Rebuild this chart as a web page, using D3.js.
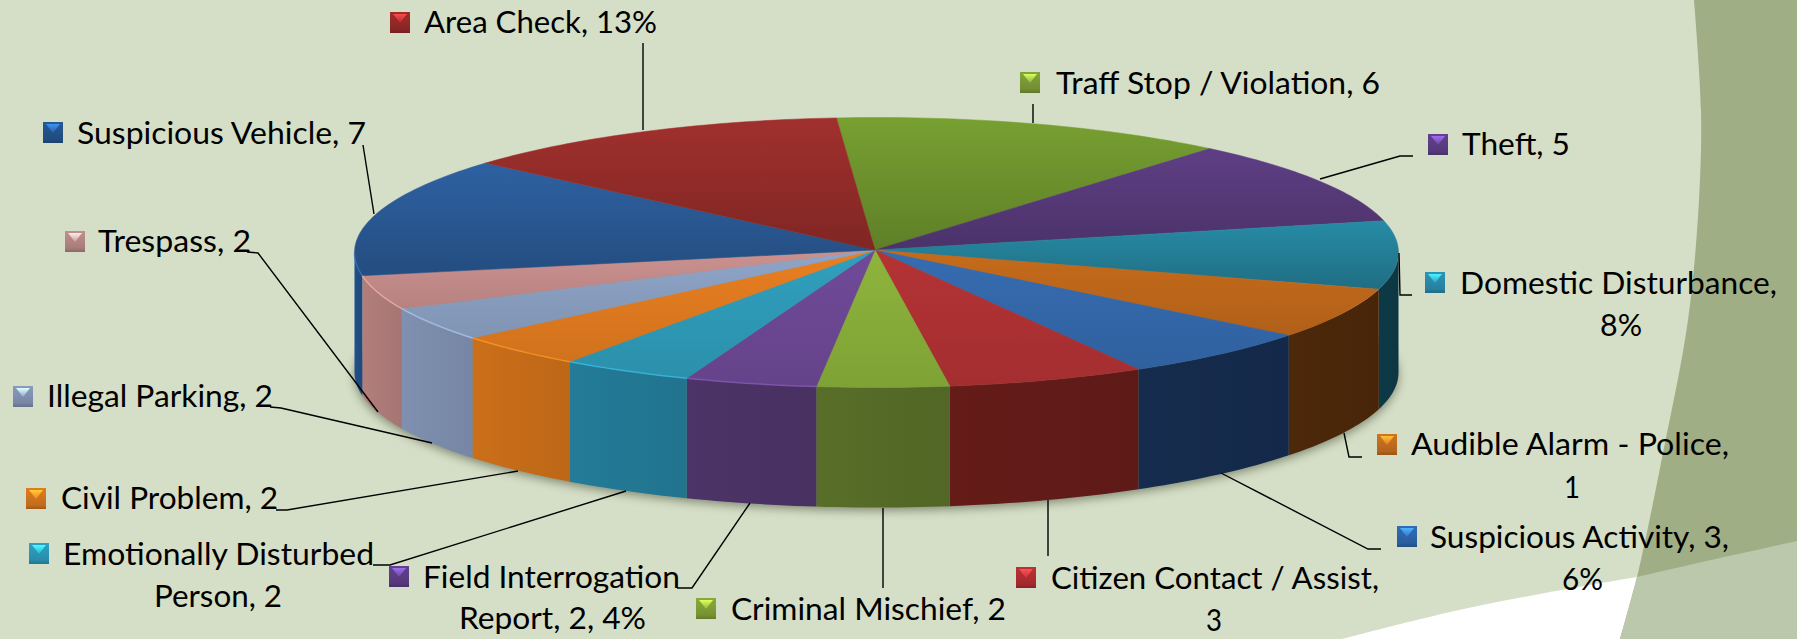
<!DOCTYPE html>
<html>
<head>
<meta charset="utf-8">
<script src="https://cdnjs.cloudflare.com/ajax/libs/d3/7.8.5/d3.min.js"></script>
<style>
html, body { margin: 0; padding: 0; background: #d5dec6; overflow: hidden; }
svg { display: block; }
text { font-family: Lato, "Open Sans", sans-serif; font-size: 30px; fill: #000; }
</style>
</head>
<body>
<svg id="chart" width="1797" height="639"></svg>
<script>
// slices clockwise, starting with Traff Stop
const categories = ["Traff Stop / Violation", "Theft", "Domestic Disturbance", "Audible Alarm - Police",
    "Suspicious Activity", "Citizen Contact / Assist", "Criminal Mischief", "Field Interrogation Report",
    "Emotionally Disturbed Person", "Civil Problem", "Illegal Parking", "Trespass", "Suspicious Vehicle", "Area Check"];

// Audible Alarm is drawn as wide as a 3 even though its label says 1
const sliceValues = [6, 5, 4, 3, 3, 3, 2, 2, 2, 2, 2, 2, 7, 6];

const labelLines = [
    ["Traff Stop / Violation, 6"], ["Theft, 5"], ["Domestic Disturbance,", "8%"], ["Audible Alarm - Police,", "1"],
    ["Suspicious Activity, 3,", "6%"], ["Citizen Contact / Assist,", "3"], ["Criminal Mischief, 2"],
    ["Field Interrogation", "Report, 2, 4%"], ["Emotionally Disturbed", "Person, 2"], ["Civil Problem, 2"],
    ["Illegal Parking, 2"], ["Trespass, 2"], ["Suspicious Vehicle, 7"], ["Area Check, 13%"]
];

const topColors = ["#739a2f", "#5b3d80", "#26869f", "#c2691b", "#356aae", "#b23234", "#8bb13b",
    "#6e4996", "#2f9dbb", "#e57d20", "#8ca2c4", "#c78e8c", "#2c5e9c", "#9b2e2b"];
const wallColors = ["#55701f", "#3d2a58", "#0d3a47", "#4d280a", "#162c4e", "#651c19", "#586e28",
    "#4d3468", "#237c98", "#cb6f19", "#7f90b0", "#b27e7c", "#1f5088", "#6b1d1b"];
const markerColors = ["#7f9f38", "#5f3f8a", "#2b8fb0", "#c8701f", "#2f68b0", "#b52f33", "#84a437",
    "#5f3f8a", "#2b9dbd", "#d9781f", "#8496b8", "#bb8a8a", "#24568f", "#9a2a2a"];

// label placement, x0..x1 is the width of each text line, y its baseline
const labelLayout = [
    { mark: [1020, 72], lines: [[1056, 1380, 94]], leader: [[1033, 104], [1033, 123]] },
    { mark: [1428, 134], lines: [[1462, 1570, 155]], leader: [[1413, 156], [1400, 156], [1320, 179]] },
    { mark: [1425, 272], lines: [[1460, 1777, 294], [1600, 1642, 336]], leader: [[1412, 295], [1400, 295], [1399, 253]] },
    { mark: [1377, 434], lines: [[1411, 1729, 455], [1564, 1580, 498]], leader: [[1362, 457], [1349, 457], [1344, 433]] },
    { mark: [1397, 526], lines: [[1430, 1729, 548], [1562, 1603, 590]], leader: [[1381, 549], [1368, 549], [1221, 473]] },
    { mark: [1016, 567], lines: [[1051, 1379, 589], [1206, 1222, 631]], leader: [[1048, 556], [1048, 500]] },
    { mark: [696, 598], lines: [[731, 1006, 620]], leader: [[883, 588], [883, 508]] },
    { mark: [389, 566], lines: [[423, 680, 588], [459, 646, 629]], leader: [[677, 588], [692, 588], [750, 503]] },
    { mark: [29, 543], lines: [[63, 374, 565], [154, 282, 607]], leader: [[373, 565], [390, 565], [626, 491]] },
    { mark: [26, 488], lines: [[61, 278, 509]], leader: [[276, 510], [287, 510], [518, 471]] },
    { mark: [13, 386], lines: [[47, 273, 407]], leader: [[270, 407], [281, 408], [432, 443]] },
    { mark: [65, 231], lines: [[98, 251, 252]], leader: [[247, 252], [258, 253], [378, 412]] },
    { mark: [43, 122], lines: [[77, 366, 144]], leader: [[363, 145], [374, 214]] },
    { mark: [390, 12], lines: [[424, 657, 33]], leader: [[643, 43], [643, 130]] }
];

const svg = d3.select("#chart");
const defs = svg.append("defs");
const line = d3.line();

// background shapes of the slide
const stripeEdge = [[1694, 0], [1701, 110], [1699, 200], [1688, 320], [1663, 453], [1637, 577], [1620, 639]];
const curved = d3.line().curve(d3.curveCatmullRom);
const bg = svg.append("g");
bg.append("rect").attr("width", 1797).attr("height", 639).attr("fill", "#d5dec6");
bg.append("path")
    .attr("d", curved([[1342, 639], [1450, 612], [1545, 593], [1637, 577]]) + "L1640,639Z")
    .attr("fill", "#ffffff");
bg.append("path")
    .attr("d", curved(stripeEdge) + "L1797,639L1797,0Z")
    .attr("fill", "#a0ae86");
bg.append("path")
    .attr("d", curved([[1637, 577], [1720, 558], [1797, 541]]) + "L1797,639L1620,639Z")
    .attr("fill", "#bcc8ac");

const cx = 876.5, cy = 252.5, rx = 522, ry = 135, depth = 120;
const apex = [875, 250];

const xScale = d3.scaleLinear().domain([-1, 1]).range([cx - rx, cx + rx]);
const yScale = d3.scaleLinear().domain([-1, 1]).range([cy - ry, cy + ry]);

const pie = d3.pie().sort(null)
    .startAngle(-4.4 * Math.PI / 180)
    .endAngle((360 - 4.4) * Math.PI / 180);
const slices = pie(sliceValues);

function rimPoints(a0, a1, dy) {
    const n = Math.max(2, Math.ceil((a1 - a0) / 0.02));
    return d3.range(n + 1).map(i => {
        const a = a0 + (a1 - a0) * i / n;
        return [xScale(Math.sin(a)), yScale(-Math.cos(a)) + dy];
    });
}

defs.append("filter").attr("id", "soft")
    .attr("x", "-5%").attr("y", "-10%").attr("width", "110%").attr("height", "120%")
    .append("feGaussianBlur").attr("stdDeviation", 5);

// shadow under the pie
svg.append("path")
    .attr("d", line(rimPoints(0, Math.PI * 2, depth + 3)) + "Z")
    .attr("fill", "#3c4430")
    .attr("opacity", 0.55)
    .attr("filter", "url(#soft)");

slices.forEach((s, i) => {
    // slices at the back fall off more towards the centre
    const mid = (s.startAngle + s.endAngle) / 2;
    const back = Math.cos(mid) > -0.1;
    const top = defs.append("linearGradient").attr("id", "top" + i)
        .attr("x1", 0).attr("y1", 0).attr("x2", 0).attr("y2", 1);
    top.append("stop").attr("offset", 0).attr("stop-color", d3.color(topColors[i]).brighter(back ? 0.1 : 0.05));
    top.append("stop").attr("offset", 1).attr("stop-color", d3.color(topColors[i]).darker(back ? 0.55 : 0.25));

    const wall = defs.append("linearGradient").attr("id", "wall" + i)
        .attr("x1", 0).attr("y1", 0).attr("x2", 1).attr("y2", 0);
    wall.append("stop").attr("offset", 0).attr("stop-color", wallColors[i]);
    wall.append("stop").attr("offset", 1).attr("stop-color", d3.color(wallColors[i]).darker(0.2));

    const mk = defs.append("linearGradient").attr("id", "mark" + i)
        .attr("x1", 0).attr("y1", 0).attr("x2", 0).attr("y2", 1);
    mk.append("stop").attr("offset", 0).attr("stop-color", d3.color(markerColors[i]).brighter(0.1));
    mk.append("stop").attr("offset", 0.8).attr("stop-color", d3.color(markerColors[i]).darker(0.3));
    mk.append("stop").attr("offset", 1).attr("stop-color", d3.color(markerColors[i]).darker(0.8));

    const tri = defs.append("linearGradient").attr("id", "tri" + i)
        .attr("x1", 0).attr("y1", 0).attr("x2", 0).attr("y2", 1);
    tri.append("stop").attr("offset", 0).attr("stop-color", d3.color(markerColors[i]).brighter(1.5));
    tri.append("stop").attr("offset", 1).attr("stop-color", d3.color(markerColors[i]).brighter(0.3));
});

// side walls, only the part of the rim facing the viewer
const walls = svg.append("g");
slices.forEach((s, i) => {
    const a0 = Math.max(s.startAngle, Math.PI / 2);
    const a1 = Math.min(s.endAngle, Math.PI * 1.5);
    if (a1 <= a0) return;
    const upper = rimPoints(a0, a1, 0);
    const lower = rimPoints(a0, a1, depth).reverse();
    walls.append("path")
        .attr("d", line(upper.concat(lower)) + "Z")
        .attr("fill", "url(#wall" + i + ")");
});

// top face
const faces = svg.append("g");
slices.forEach((s, i) => {
    faces.append("path")
        .attr("d", line([apex].concat(rimPoints(s.startAngle, s.endAngle, 0))) + "Z")
        .attr("fill", "url(#top" + i + ")")
        .attr("stroke", "url(#top" + i + ")")
        .attr("stroke-width", 0.5);
});

// light bevel along the front left edge
const bevels = svg.append("g");
slices.forEach((s, i) => {
    const a0 = Math.max(s.startAngle, Math.PI / 2);
    const a1 = Math.min(s.endAngle, Math.PI * 1.5);
    if (a1 <= a0 || a0 < Math.PI) return;
    bevels.append("path")
        .attr("d", line(rimPoints(a0, a1, 0)))
        .attr("fill", "none")
        .attr("stroke", d3.color(topColors[i]).brighter(0.6))
        .attr("stroke-width", 1.5)
        .attr("opacity", 0.7);
});

// leader lines
svg.append("g").selectAll("path")
    .data(labelLayout)
    .enter()
    .append("path")
    .attr("d", d => line(d.leader))
    .attr("fill", "none")
    .attr("stroke", "#000")
    .attr("stroke-width", 1.4);

// labels with their little bevelled markers
const labels = svg.append("g").selectAll("g")
    .data(categories)
    .enter()
    .append("g");

labels.each(function (d, i) {
    const g = d3.select(this);
    const lay = labelLayout[i];
    const mx = lay.mark[0], my = lay.mark[1];
    g.append("rect")
        .attr("x", mx).attr("y", my).attr("width", 20).attr("height", 21)
        .attr("fill", "url(#mark" + i + ")");
    g.append("path")
        .attr("d", line([[mx + 3, my + 2], [mx + 17, my + 2], [mx + 10, my + 11]]) + "Z")
        .attr("fill", "url(#tri" + i + ")");
    labelLines[i].forEach((t, j) => {
        const l = lay.lines[j];
        g.append("text")
            .attr("x", l[0])
            .attr("y", l[2])
            .attr("textLength", l[1] - l[0])
            .attr("lengthAdjust", "spacingAndGlyphs")
            .text(t);
    });
});
</script>
</body>
</html>
